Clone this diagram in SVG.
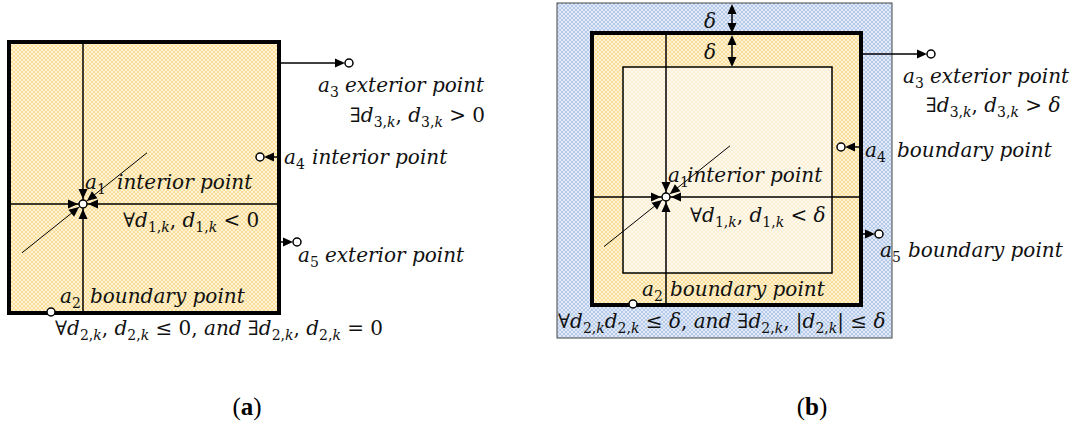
<svg xmlns="http://www.w3.org/2000/svg" xmlns:xlink="http://www.w3.org/1999/xlink" width="1077" height="423" viewBox="0 0 1077 423">
<style>
.t{font-family:"DejaVu Serif",serif;font-size:20px;fill:#111;}
.i{font-style:italic;}
.s{font-size:14px;}
.thin{stroke:#000;stroke-width:1.5;fill:none;}
.diag{stroke:#000;stroke-width:1;fill:none;}
.pt{fill:#fff;stroke:#000;stroke-width:1.5;}
.cap{font-family:"Liberation Serif",serif;font-size:25px;fill:#000;}
</style>
<defs>
<pattern id="py" width="4" height="4" patternUnits="userSpaceOnUse"><rect width="4" height="4" fill="#f9df97"/><path d="M0,0 L4,4 M4,0 L0,4" stroke="#fff" stroke-width="1" opacity="0.6"/></pattern>
<pattern id="pb" width="4" height="4" patternUnits="userSpaceOnUse"><rect width="4" height="4" fill="#b6cbea"/><path d="M0,0 L4,4 M4,0 L0,4" stroke="#fff" stroke-width="1" opacity="0.6"/></pattern>
<pattern id="pc" width="4" height="4" patternUnits="userSpaceOnUse"><rect width="4" height="4" fill="#fcf0d4"/><path d="M0,0 L4,4 M4,0 L0,4" stroke="#fff" stroke-width="1" opacity="0.6"/></pattern>
<path id="ah" d="M0,0 L-10,-4.5 L-10,4.5 Z" fill="#000"/>
</defs>
<rect width="1077" height="423" fill="#fff"/>

<g id="a-region">
<rect x="9" y="42" width="270" height="271" fill="url(#py)" stroke="#000" stroke-width="4"/>
</g>
<g id="b-region">
<rect x="557" y="3" width="335" height="335" fill="url(#pb)" stroke="#444" stroke-width="1"/>
<rect x="592" y="33" width="269" height="272" fill="url(#py)" stroke="#000" stroke-width="4"/>
<rect x="623" y="67" width="209" height="206" fill="url(#pc)" stroke="#000" stroke-width="1.5"/>
</g>

<g id="connectors">
<line class="thin" x1="83" y1="42" x2="83" y2="313"/>
<line class="thin" x1="9" y1="204" x2="279" y2="204"/>
<line class="diag" x1="22" y1="252.8" x2="147" y2="152.8"/>
<use xlink:href="#ah" transform="translate(78,204)"/>
<use xlink:href="#ah" transform="translate(88,204) rotate(180)"/>
<use xlink:href="#ah" transform="translate(83,199) rotate(90)"/>
<use xlink:href="#ah" transform="translate(83,209) rotate(-90)"/>
<use xlink:href="#ah" transform="translate(79.1,207.1) rotate(-38.66)"/>
<use xlink:href="#ah" transform="translate(86.9,200.9) rotate(141.34)"/>
<line class="thin" x1="279" y1="63" x2="337" y2="63"/>
<use xlink:href="#ah" transform="translate(345,63)"/>
<line class="thin" x1="279" y1="157" x2="271" y2="157"/>
<use xlink:href="#ah" transform="translate(264,157) rotate(180)"/>
<line class="thin" x1="280" y1="242" x2="285" y2="242"/>
<use xlink:href="#ah" transform="translate(293,242)"/>
<line class="thin" x1="666" y1="33" x2="666" y2="305"/>
<line class="thin" x1="592" y1="197" x2="861" y2="197"/>
<line class="diag" x1="604" y1="246.6" x2="730" y2="145.8"/>
<use xlink:href="#ah" transform="translate(661,197)"/>
<use xlink:href="#ah" transform="translate(671,197) rotate(180)"/>
<use xlink:href="#ah" transform="translate(666,192) rotate(90)"/>
<use xlink:href="#ah" transform="translate(666,202) rotate(-90)"/>
<use xlink:href="#ah" transform="translate(662.1,200.1) rotate(-38.66)"/>
<use xlink:href="#ah" transform="translate(669.9,193.9) rotate(141.34)"/>
<line class="thin" x1="732" y1="8" x2="732" y2="30"/>
<use xlink:href="#ah" transform="translate(732,4) rotate(-90)"/>
<use xlink:href="#ah" transform="translate(732,33) rotate(90)"/>
<line class="thin" x1="732" y1="40" x2="732" y2="62"/>
<use xlink:href="#ah" transform="translate(732,35) rotate(-90)"/>
<use xlink:href="#ah" transform="translate(732,67) rotate(90)"/>
<line class="thin" x1="861" y1="54" x2="919" y2="54"/>
<use xlink:href="#ah" transform="translate(927,54)"/>
<line class="thin" x1="860" y1="147" x2="852" y2="147"/>
<use xlink:href="#ah" transform="translate(845,147) rotate(180)"/>
<line class="thin" x1="862" y1="234" x2="867" y2="234"/>
<use xlink:href="#ah" transform="translate(875,234)"/>
</g>

<g id="a1-a"><circle class="pt" cx="83" cy="204" r="4"/>
<text class="t" x="85" y="189"><tspan class="i">a</tspan><tspan class="s" dy="5">1</tspan><tspan class="i" x="117" dy="-5">interior point</tspan></text>
<text class="t" x="123" y="227">∀<tspan class="i">d</tspan><tspan class="s" dy="5">1,<tspan class="i">k</tspan></tspan><tspan dy="-5">, </tspan><tspan class="i">d</tspan><tspan class="s" dy="5">1,<tspan class="i">k</tspan></tspan><tspan dy="-5"> &lt; 0</tspan></text>
</g>
<g id="a2-a"><circle class="pt" cx="51" cy="312" r="4"/>
<text class="t" x="60" y="303"><tspan class="i">a</tspan><tspan class="s" dy="5">2</tspan><tspan class="i" x="90" dy="-5">boundary point</tspan></text>
<text class="t" x="55" y="335">∀<tspan class="i">d</tspan><tspan class="s" dy="5">2,<tspan class="i">k</tspan></tspan><tspan dy="-5">, </tspan><tspan class="i">d</tspan><tspan class="s" dy="5">2,<tspan class="i">k</tspan></tspan><tspan dy="-5"> ≤ 0, </tspan><tspan class="i">and</tspan> ∃<tspan class="i">d</tspan><tspan class="s" dy="5">2,<tspan class="i">k</tspan></tspan><tspan dy="-5">, </tspan><tspan class="i">d</tspan><tspan class="s" dy="5">2,<tspan class="i">k</tspan></tspan><tspan dy="-5"> = 0</tspan></text>
</g>
<g id="a3-a"><circle class="pt" cx="349" cy="63" r="4"/>
<text class="t" x="318" y="92"><tspan class="i">a</tspan><tspan class="s" dy="5">3</tspan><tspan class="i" x="345" dy="-5">exterior point</tspan></text>
<text class="t" x="350" y="122">∃<tspan class="i">d</tspan><tspan class="s" dy="5">3,<tspan class="i">k</tspan></tspan><tspan dy="-5">, </tspan><tspan class="i">d</tspan><tspan class="s" dy="5">3,<tspan class="i">k</tspan></tspan><tspan dy="-5"> &gt; 0</tspan></text>
</g>
<g id="a4-a"><circle class="pt" cx="260" cy="157" r="4"/>
<text class="t" x="284" y="164"><tspan class="i">a</tspan><tspan class="s" dy="5">4</tspan><tspan class="i" x="312" dy="-5">interior point</tspan></text>
</g>
<g id="a5-a"><circle class="pt" cx="297" cy="242" r="4"/>
<text class="t" x="298" y="262"><tspan class="i">a</tspan><tspan class="s" dy="5">5</tspan><tspan class="i" x="325" dy="-5">exterior point</tspan></text>
</g>

<g id="a1-b"><circle class="pt" cx="666" cy="197" r="4"/>
<text class="t" x="668" y="182"><tspan class="i">a</tspan><tspan class="s" dy="5">1</tspan><tspan class="i" x="687" dy="-5">interior point</tspan></text>
<text class="t" x="690" y="222">∀<tspan class="i">d</tspan><tspan class="s" dy="5">1,<tspan class="i">k</tspan></tspan><tspan dy="-5">, </tspan><tspan class="i">d</tspan><tspan class="s" dy="5">1,<tspan class="i">k</tspan></tspan><tspan dy="-5"> &lt; </tspan><tspan class="i">δ</tspan></text>
</g>
<g id="a2-b"><circle class="pt" cx="633" cy="304" r="4"/>
<text class="t" x="642" y="296"><tspan class="i">a</tspan><tspan class="s" dy="5">2</tspan><tspan class="i" x="670" dy="-5">boundary point</tspan></text>
<text class="t" x="558" y="328">∀<tspan class="i">d</tspan><tspan class="s" dy="5">2,<tspan class="i">k</tspan></tspan><tspan class="i" dy="-5">d</tspan><tspan class="s" dy="5">2,<tspan class="i">k</tspan></tspan><tspan dy="-5"> ≤ </tspan><tspan class="i">δ</tspan>, <tspan class="i">and</tspan> ∃<tspan class="i">d</tspan><tspan class="s" dy="5">2,<tspan class="i">k</tspan></tspan><tspan dy="-5">, |</tspan><tspan class="i">d</tspan><tspan class="s" dy="5">2,<tspan class="i">k</tspan></tspan><tspan dy="-5">| ≤ </tspan><tspan class="i">δ</tspan></text>
</g>
<g id="a3-b"><circle class="pt" cx="931" cy="54" r="4"/>
<text class="t" x="903" y="83"><tspan class="i">a</tspan><tspan class="s" dy="5">3</tspan><tspan class="i" x="930" dy="-5">exterior point</tspan></text>
<text class="t" x="926" y="112">∃<tspan class="i">d</tspan><tspan class="s" dy="5">3,<tspan class="i">k</tspan></tspan><tspan dy="-5">, </tspan><tspan class="i">d</tspan><tspan class="s" dy="5">3,<tspan class="i">k</tspan></tspan><tspan dy="-5"> &gt; </tspan><tspan class="i">δ</tspan></text>
</g>
<g id="a4-b"><circle class="pt" cx="841" cy="147" r="4"/>
<text class="t" x="865" y="157"><tspan class="i">a</tspan><tspan class="s" dy="5">4</tspan><tspan class="i" x="897" dy="-5">boundary point</tspan></text>
</g>
<g id="a5-b"><circle class="pt" cx="879" cy="234" r="4"/>
<text class="t" x="880" y="257"><tspan class="i">a</tspan><tspan class="s" dy="5">5</tspan><tspan class="i" x="908" dy="-5">boundary point</tspan></text>
</g>
<g id="deltas">
<text class="t i" x="710" y="28" text-anchor="middle" font-size="22">δ</text>
<text class="t i" x="710" y="59" text-anchor="middle" font-size="22">δ</text>
</g>
<g id="captions">
<text class="cap" x="247" y="415" text-anchor="middle">(<tspan font-weight="bold">a</tspan>)</text>
<text class="cap" x="812" y="415" text-anchor="middle">(<tspan font-weight="bold">b</tspan>)</text>
</g>
</svg>
